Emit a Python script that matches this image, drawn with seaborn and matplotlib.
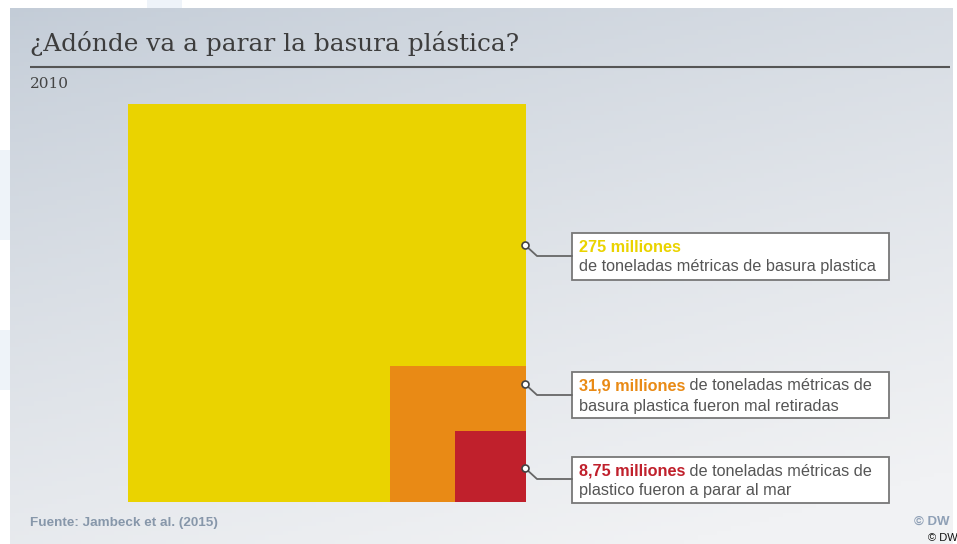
import numpy as np
import matplotlib
matplotlib.use("Agg")
import matplotlib.pyplot as plt
from matplotlib.patches import Rectangle
import seaborn as sns

# data
values = [275, 31.9, 8.75]
labels_bold = ["275 milliones", "31,9 milliones", "8,75 milliones"]
labels_rest = [["", "de toneladas métricas de basura plastica"],
               [" de toneladas métricas de", "basura plastica fueron mal retiradas"],
               [" de toneladas métricas de", "plastico fueron a parar al mar"]]
colors = ["#ead300", "#e98a15", "#c0202c"]
title = "¿Adónde va a parar la basura plástica?"
subtitle = "2010"
source = "Fuente: Jambeck et al. (2015)"

sns.set_theme(style="white")
plt.rcParams['font.family'] = ['Liberation Sans', 'DejaVu Sans']

W, H = 957, 544
fig = plt.figure(figsize=(W / 100, H / 100), dpi=100)
fig.patch.set_facecolor("white")

# gradient panel
bg = fig.add_axes([10 / W, 0, (953 - 10) / W, (H - 8) / H])
gx, gy = np.meshgrid(np.linspace(0, 1, 200), np.linspace(0, 1, 120))
t = np.clip(gy * 0.75 + gx * 0.35, 0, 1) ** 0.8
c0 = np.array([195, 204, 215]) / 255
c1 = np.array([241, 242, 244]) / 255
img = c0[None, None, :] * (1 - t[..., None]) + c1[None, None, :] * t[..., None]
bg.imshow(img, aspect="auto", extent=[0, 1, 0, 1], origin="upper")
bg.set_axis_off()

# faint shapes on the white margin
deco = fig.add_axes([0, 0, 1, 1], zorder=-1)
deco.set_xlim(0, W)
deco.set_ylim(H, 0)
deco.set_axis_off()
for (x0, y0, w, h) in [(147, 0, 35, 8), (0, 150, 10, 90), (0, 330, 10, 60)]:
    deco.add_patch(Rectangle((x0, y0), w, h, color="#eef3f9", lw=0))

# nested squares, side proportional to sqrt(value)
S = np.sqrt(values[0])
sides = np.sqrt(values)
ax = fig.add_axes([128 / W, (H - 502) / H, 398 / W, 398 / H])
ax.bar(S - sides, sides, width=sides, align="edge", color=colors, linewidth=0)
ax.set_xlim(0, S)
ax.set_ylim(0, S)
ax.set_axis_off()

# overlay in pixel coords
ov = fig.add_axes([0, 0, 1, 1])
ov.set_xlim(0, W)
ov.set_ylim(H, 0)
ov.set_axis_off()
ov.patch.set_alpha(0)

ov.text(30, 44, title, family=["DejaVu Serif"], fontsize=17.8, color="#3d3d3d", va="center")
ov.plot([30, 950], [67, 67], color="#555555", lw=1.5, solid_capstyle="butt")
ov.text(30, 84, subtitle, family=["DejaVu Serif"], fontsize=11, color="#444444", va="center")

boxes = [(233, 280, 245), (372, 418, 384), (457, 503, 468)]
for i, (y0, y1, yc) in enumerate(boxes):
    ov.add_patch(Rectangle((572, y0), 889 - 572, y1 - y0, facecolor="white",
                           edgecolor="#777777", lw=1.3, zorder=3))
    ov.plot([525, 537, 572], [yc, yc + 11, yc + 11], color="#666666", lw=1.3, zorder=3)
    ov.plot([525], [yc], marker="o", ms=5, mfc="white", mec="#444444", mew=1.2, zorder=4)
    ly1 = y0 + 14
    ly2 = y0 + 34
    t1 = ov.text(579, ly1, labels_bold[i], fontsize=11.7, fontweight="bold",
                 color=colors[i], va="center", zorder=5)
    fig.canvas.draw()
    bb = t1.get_window_extent()
    xend = ov.transData.inverted().transform((bb.x1, bb.y0))[0]
    ov.text(xend, ly1, labels_rest[i][0], fontsize=11.7, color="#555555", va="center", zorder=5)
    ov.text(579, ly2, labels_rest[i][1], fontsize=11.7, color="#555555", va="center", zorder=5)

ov.text(30, 523, source, fontsize=9.7, fontweight="bold", color="#8797aa", va="center")
ov.text(950, 522, "© DW", fontsize=9.5, fontweight="bold", color="#8fa0b6", va="center", ha="right")
ov.text(928, 538, "© DW", fontsize=8, color="#111111", va="center")

fig.savefig("out.png", dpi=100)
